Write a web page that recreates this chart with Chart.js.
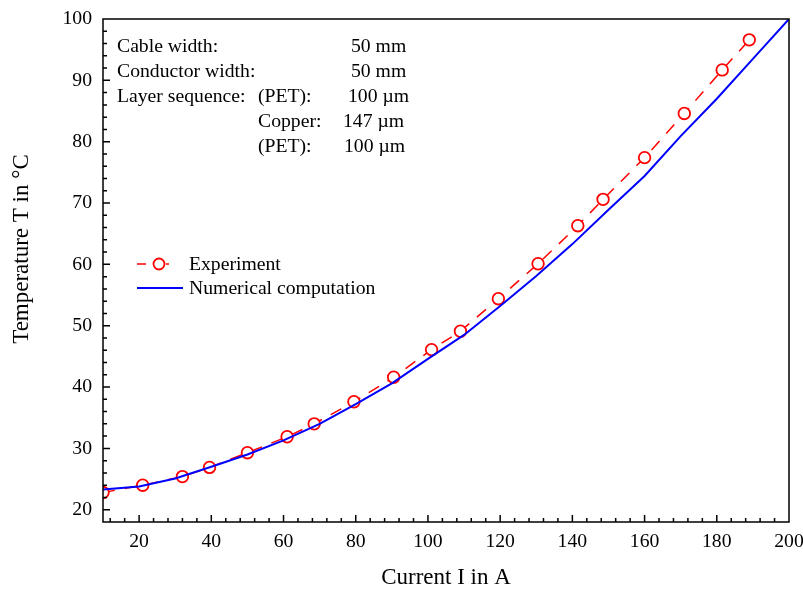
<!DOCTYPE html>
<html>
<head>
<meta charset="utf-8">
<script src="https://cdn.jsdelivr.net/npm/chart.js@4.4.0/dist/chart.umd.min.js"></script>
<style>
  html, body { margin: 0; padding: 0; background: #fff; }
</style>
</head>
<body>
<canvas id="tempChart" width="803" height="589"></canvas>
<script>
// measured points
const expCurrent = [10, 21, 32, 39.5, 50, 61, 68.5, 79.5, 90.5, 101, 109, 119.5, 130.5, 141.5, 148.5, 160, 171, 181.5, 189];
const expTemp = [22.8, 24.0, 25.4, 26.9, 29.3, 31.9, 34.0, 37.6, 41.6, 46.1, 49.1, 54.4, 60.1, 66.3, 70.6, 77.4, 84.6, 91.7, 96.6];

// numerical computation
const numCurrent = [10, 20, 30, 40, 50, 60, 70, 80, 90, 100, 110, 120, 130, 140, 150, 160, 170, 180, 190, 200];
const numTemp = [23.3, 23.8, 25.1, 27.0, 29.0, 31.3, 34.0, 37.2, 40.6, 44.6, 48.5, 53.2, 58.1, 63.3, 68.9, 74.4, 80.9, 87.0, 93.5, 100.0];

const xTicks = [20, 40, 60, 80, 100, 120, 140, 160, 180, 200];
const yTicks = [20, 30, 40, 50, 60, 70, 80, 90, 100];

const seriesNames = ['Experiment', 'Numerical computation'];

const infoLabels = ['Cable width:', 'Conductor width:', 'Layer sequence:', '', ''];
const infoLayers = ['', '', '(PET):', 'Copper:', '(PET):'];
const infoValues = ['50 mm', '50 mm', '100 µm', '147 µm', '100 µm'];

const FONT = '"Liberation Serif", "Times New Roman", serif';
const RED = 'rgb(255,0,0)';
const BLUE = 'rgb(0,0,255)';

// frame, inward ticks, legend and the info block
const decorations = {
    id: 'decorations',
    afterDraw(chart) {
        const ctx = chart.ctx;
        const a = chart.chartArea;
        const xs = chart.scales.x;
        const ys = chart.scales.y;
        ctx.save();
        ctx.strokeStyle = '#000';
        ctx.lineWidth = 1.5;
        ctx.strokeRect(a.left, a.top, a.right - a.left, a.bottom - a.top);

        ctx.beginPath();
        for (let v = 12; v < 200; v += 4) {
            const len = v % 20 === 0 ? 7 : 4;
            const px = xs.getPixelForValue(v);
            ctx.moveTo(px, a.bottom);
            ctx.lineTo(px, a.bottom - len);
        }
        for (let v = 20; v < 100; v += 2) {
            const len = v % 10 === 0 ? 7 : 4;
            const py = ys.getPixelForValue(v);
            ctx.moveTo(a.left, py);
            ctx.lineTo(a.left + len, py);
        }
        ctx.stroke();

        // y title
        ctx.fillStyle = '#000';
        ctx.font = '23px ' + FONT;
        ctx.textAlign = 'center';
        ctx.textBaseline = 'middle';
        ctx.translate(22, 249);
        ctx.rotate(-Math.PI / 2);
        ctx.fillText('Temperature T in °C', 0, 0);
        ctx.setTransform(1, 0, 0, 1, 0, 0);

        // legend
        ctx.font = '19.7px ' + FONT;
        ctx.lineWidth = 1.5;
        ctx.strokeStyle = RED;
        ctx.beginPath();
        ctx.moveTo(137, 264); ctx.lineTo(146, 264);
        ctx.moveTo(166, 264); ctx.lineTo(169, 264);
        ctx.stroke();
        ctx.lineWidth = 1.8;
        ctx.beginPath();
        ctx.arc(159, 264, 5.5, 0, Math.PI * 2);
        ctx.stroke();
        ctx.strokeStyle = BLUE;
        ctx.lineWidth = 2;
        ctx.beginPath();
        ctx.moveTo(137, 288); ctx.lineTo(183, 288);
        ctx.stroke();
        ctx.textAlign = 'left';
        ctx.fillText(seriesNames[0], 189, 265);
        ctx.fillText(seriesNames[1], 189, 289);

        // info block
        const valueX = [351, 351, 348, 343, 344];
        for (let i = 0; i < infoLabels.length; i++) {
            const y = 47 + i * 24.9;
            ctx.fillText(infoLabels[i], 117, y);
            ctx.fillText(infoLayers[i], 258, y);
            ctx.fillText(infoValues[i], valueX[i], y);
        }
        ctx.restore();
    }
};

new Chart(document.getElementById('tempChart'), {
    type: 'line',
    data: {
        datasets: [{
            label: seriesNames[0],
            data: expCurrent.map((x, i) => ({ x: x, y: expTemp[i] })),
            borderColor: RED,
            borderWidth: 1.5,
            borderDash: [12, 10],
            pointRadius: 5.8,
            pointBorderWidth: 1.8,
            pointBorderColor: RED,
            pointBackgroundColor: '#fff',
            tension: 0,
            order: 1
        }, {
            label: seriesNames[1],
            data: numCurrent.map((x, i) => ({ x: x, y: numTemp[i] })),
            borderColor: BLUE,
            borderWidth: 2,
            pointRadius: 0,
            tension: 0,
            order: 0
        }]
    },
    options: {
        responsive: false,
        animation: false,
        layout: { padding: { left: 0, right: 14, top: 19, bottom: 0 } },
        plugins: { legend: { display: false }, tooltip: { enabled: false } },
        scales: {
            x: {
                type: 'linear',
                min: 10,
                max: 200,
                afterBuildTicks: s => { s.ticks = xTicks.map(v => ({ value: v })); },
                afterFit: s => { s.height = 67; s.paddingLeft = 0; s.paddingRight = 0; },
                grid: { display: false, drawTicks: false },
                border: { display: false },
                ticks: { color: '#000', padding: 8, maxRotation: 0, font: { family: FONT, size: 19.7 } },
                title: { display: true, text: 'Current I in A', color: '#000', padding: { top: 0, bottom: -3 }, font: { family: FONT, size: 23 } }
            },
            y: {
                min: 18,
                max: 100,
                afterBuildTicks: s => { s.ticks = yTicks.map(v => ({ value: v })); },
                afterFit: s => { s.width = 103; s.paddingTop = 0; s.paddingBottom = 0; },
                grid: { display: false, drawTicks: false },
                border: { display: false },
                ticks: { color: '#000', padding: 11, font: { family: FONT, size: 19.7 } }
            }
        }
    },
    plugins: [decorations]
});
</script>
</body>
</html>
